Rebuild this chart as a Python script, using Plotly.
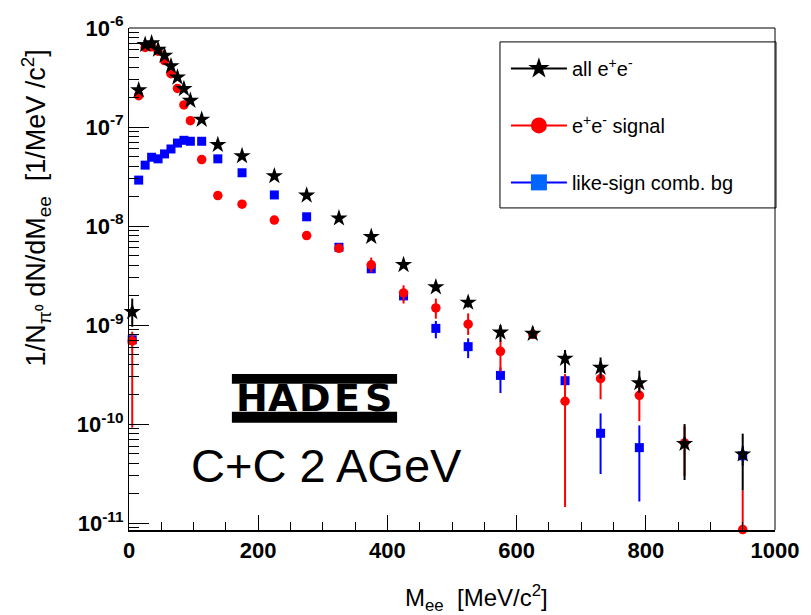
import plotly.graph_objects as go

# ---------------- data ----------------
mass = [5, 15, 25, 35, 45, 55, 65, 75, 85, 95, 112.5, 137.5, 175, 225, 275,
        325, 375, 425, 475, 525, 575, 625, 675, 730, 790, 860, 950]

all_ee = [1.36e-9, 2.36e-7, 6.78e-7, 7.03e-7, 6.07e-7, 5.26e-7, 4.13e-7, 3.18e-7,
          2.43e-7, 1.85e-7, 1.19e-7, 6.62e-8, 5.1e-8, 3.2e-8, 2.04e-8, 1.2e-8,
          7.8e-9, 4.06e-9, 2.42e-9, 1.69e-9, 8.43e-10, 8.18e-10, 4.59e-10,
          3.73e-10, 2.6e-10, 6.33e-11, 4.96e-11]
all_hi = [1.85e-9, None, None, None, None, None, None, None, None, None, None,
          None, None, None, None, None, None, 4.4e-9, 2.7e-9, 1.95e-9, 1.0e-9,
          9.6e-10, 5.6e-10, 4.7e-10, 3.46e-10, 1.0e-10, 8.0e-11]
all_lo = [9.6e-10, None, None, None, None, None, None, None, None, None, None,
          None, None, None, None, None, None, 3.75e-9, 2.2e-9, 1.5e-9, 6.8e-10,
          7.3e-10, 3.27e-10, 2.89e-10, 2.06e-10, 2.72e-11, 2.13e-11]

signal = [6.9e-10, 2.07e-7, 6.37e-7, 6.47e-7, 5.83e-7, 4.69e-7, 3.45e-7, 2.45e-7,
          1.67e-7, 1.16e-7, 4.69e-8, 2.03e-8, 1.66e-8, 1.15e-8, 8.0e-9, 5.96e-9,
          4.06e-9, 2.11e-9, 1.49e-9, 1.02e-9, 5.43e-10, 8.05e-10, 1.7e-10,
          2.87e-10, 1.95e-10, 6.45e-11, 8.6e-12]
sig_hi = [8.57e-10, None, None, None, None, None, None, None, None, None, None,
          None, None, None, None, 6.6e-9, 4.8e-9, 2.52e-9, 1.85e-9, 1.31e-9,
          6.92e-10, 8.8e-10, 3.2e-10, 3.82e-10, 2.52e-10, 9.5e-11, 2.13e-11]
sig_lo = [9.2e-11, None, None, None, None, None, None, None, None, None, None,
          None, None, None, None, 5.4e-9, 3.4e-9, 1.65e-9, 1.16e-9, 7.94e-10,
          3.4e-10, 7.3e-10, 1.45e-11, 1.78e-10, 1.07e-10, 3.0e-11, None]

bg = [7.1e-10, 2.91e-8, 4.12e-8, 4.95e-8, 4.77e-8, 5.35e-8, 6.0e-8, 6.89e-8,
      7.34e-8, 7.18e-8, 7.18e-8, 4.77e-8, 3.45e-8, 2.06e-8, 1.24e-8, 6.1e-9,
      3.7e-9, 1.97e-9, 9.25e-10, 6.05e-10, 3.1e-10, None, 2.74e-10, 8.07e-11,
      5.78e-11, None, 4.78e-11]
bg_hi = [None, None, None, None, None, None, None, None, None, None, None,
         None, None, None, None, None, None, 2.2e-9, 1.1e-9, 7.34e-10, 3.73e-10,
         None, 3.1e-10, 1.28e-10, 9.7e-11, None, 6.0e-11]
bg_lo = [None, None, None, None, None, None, None, None, None, None, None,
         None, None, None, None, None, None, 1.75e-9, 7.34e-10, 4.63e-10, 2.06e-10,
         None, 2.4e-10, 3.13e-11, 1.65e-11, None, 3.8e-11]

series_names = ["all e<sup>+</sup>e<sup>-</sup>", "e<sup>+</sup>e<sup>-</sup> signal",
                "like-sign comb. bg"]

y_tickvals = [1e-11, 1e-10, 1e-9, 1e-8, 1e-7, 1e-6]
y_ticktext = ["10<sup>-11</sup>", "10<sup>-10</sup>", "10<sup>-9</sup>",
              "10<sup>-8</sup>", "10<sup>-7</sup>", "10<sup>-6</sup>"]
x_tickvals = [0, 200, 400, 600, 800, 1000]


def errs(vals, hi, lo):
    up, dn = [], []
    for v, h, l in zip(vals, hi, lo):
        up.append(0 if (v is None or h is None) else h - v)
        dn.append(0 if (v is None or l is None) else v - l)
    return up, dn


W, H = 811, 615
L, R, T, B = 129, 29, 25, 85
PW, PH = W - L - R, H - T - B


def px(x):
    return (x - L) / PW


def py(y):
    return (H - B - y) / PH


fig = go.Figure()

specs = [
    (bg, bg_hi, bg_lo, "#0000ff", "square", 9),
    (signal, sig_hi, sig_lo, "#ff0000", "circle", 9.5),
    (all_ee, all_hi, all_lo, "#000000", "star", 13),
]
for vals, hi, lo, col, sym, size in specs:
    up, dn = errs(vals, hi, lo)
    fig.add_trace(go.Scatter(
        x=mass, y=vals, mode="markers", showlegend=False, cliponaxis=False,
        marker=dict(symbol=sym, size=size, color=col, line=dict(width=0)),
        error_y=dict(type="data", symmetric=False, array=up, arrayminus=dn,
                     color=col, thickness=2, width=0),
    ))

# legend entries (line + marker, ROOT style)
leg = [(series_names[0], "#000000", "#000000", "star", 26),
       (series_names[1], "#ff0000", "#ff0000", "circle", 20),
       (series_names[2], "#0066ff", "#0000ff", "square", 19)]
for i, (nm, col, lcol, sym, size) in enumerate(leg):
    fig.add_trace(go.Scatter(
        x=[None], y=[None], mode="lines+markers", name=nm, legendgroup=str(i),
        line=dict(color=lcol, width=2),
        marker=dict(symbol=sym, size=size, color=col, line=dict(width=0)),
    ))

tickfont = dict(family="Liberation Sans", size=22, color="black", weight="bold")

fig.update_layout(
    width=W, height=H, autosize=False,
    margin=dict(l=L, r=R, t=T, b=B, pad=0),
    paper_bgcolor="white", plot_bgcolor="white",
    font=dict(family="Liberation Sans", color="black"),
    xaxis=dict(range=[0, 1000], tickmode="array", tickvals=x_tickvals,
               ticks="inside", ticklen=15, tickwidth=1, tickcolor="black",
               showline=True, linecolor="black", linewidth=2, mirror=False,
               showgrid=False, zeroline=False, tickfont=tickfont,
               minor=dict(dtick=50, ticks="inside", ticklen=8, tickcolor="black",
                          showgrid=False)),
    yaxis=dict(type="log", range=[-11.07, -6.0], tickmode="array",
               tickvals=y_tickvals, ticktext=y_ticktext,
               ticks="inside", ticklen=20, tickwidth=1, tickcolor="black",
               showline=True, linecolor="black", linewidth=1, mirror=False,
               showgrid=False, zeroline=False, tickfont=tickfont,
               minor=dict(ticks="inside", ticklen=10, tickcolor="black",
                          dtick="D1", showgrid=False)),
    legend=dict(x=px(510), y=py(46), xanchor="left", yanchor="top",
                bgcolor="rgba(0,0,0,0)", borderwidth=0,
                font=dict(family="Liberation Sans", size=20, color="black"),
                itemwidth=56, tracegroupgap=28, traceorder="grouped",
                itemsizing="trace"),
    shapes=[
        dict(type="line", xref="paper", yref="paper", x0=0, x1=1, y0=1, y1=1,
             line=dict(color="black", width=1)),
        dict(type="line", xref="paper", yref="paper", x0=1, x1=1, y0=0, y1=1,
             line=dict(color="black", width=1)),
        dict(type="rect", xref="paper", yref="paper", x0=px(504), x1=px(783),
             y0=py(206), y1=py(39), line=dict(color="black", width=1),
             fillcolor="rgba(0,0,0,0)", layer="above"),
        # HADES logo bars
        dict(type="rect", xref="paper", yref="paper", x0=px(233), x1=px(400),
             y0=py(383), y1=py(373), line=dict(width=0), fillcolor="black"),
        dict(type="rect", xref="paper", yref="paper", x0=px(233), x1=px(400),
             y0=py(422), y1=py(411), line=dict(width=0), fillcolor="black"),
    ],
)

annotations = [
    dict(text="1/N<sub>π⁰</sub> dN/dM<sub>ee</sub>  [1/MeV /c<sup>2</sup>]",
         xref="paper", yref="paper", x=px(35), y=py(45), xanchor="center",
         yanchor="top", textangle=-90, showarrow=False,
         font=dict(family="Liberation Sans", size=27, color="black")),
    dict(text="M<sub>ee</sub>  [MeV/c<sup>2</sup>]", xref="paper", yref="paper",
         x=px(480), y=py(598), xanchor="center", yanchor="middle", showarrow=False,
         font=dict(family="Liberation Sans", size=24, color="black")),
    dict(text="C+C 2 AGeV", xref="paper", yref="paper", x=px(190), y=py(465),
         xanchor="left", yanchor="middle", showarrow=False,
         font=dict(family="Liberation Sans", size=47, color="black")),
]
for i, ch in enumerate("HADES"):
    annotations.append(dict(
        text=ch, xref="paper", yref="paper", x=px(253 + 32 * i), y=py(397),
        xanchor="center", yanchor="middle", showarrow=False,
        font=dict(family="DejaVu Sans", size=38, color="black", weight="bold")))
fig.update_layout(annotations=annotations)

fig.write_html("out.html")
